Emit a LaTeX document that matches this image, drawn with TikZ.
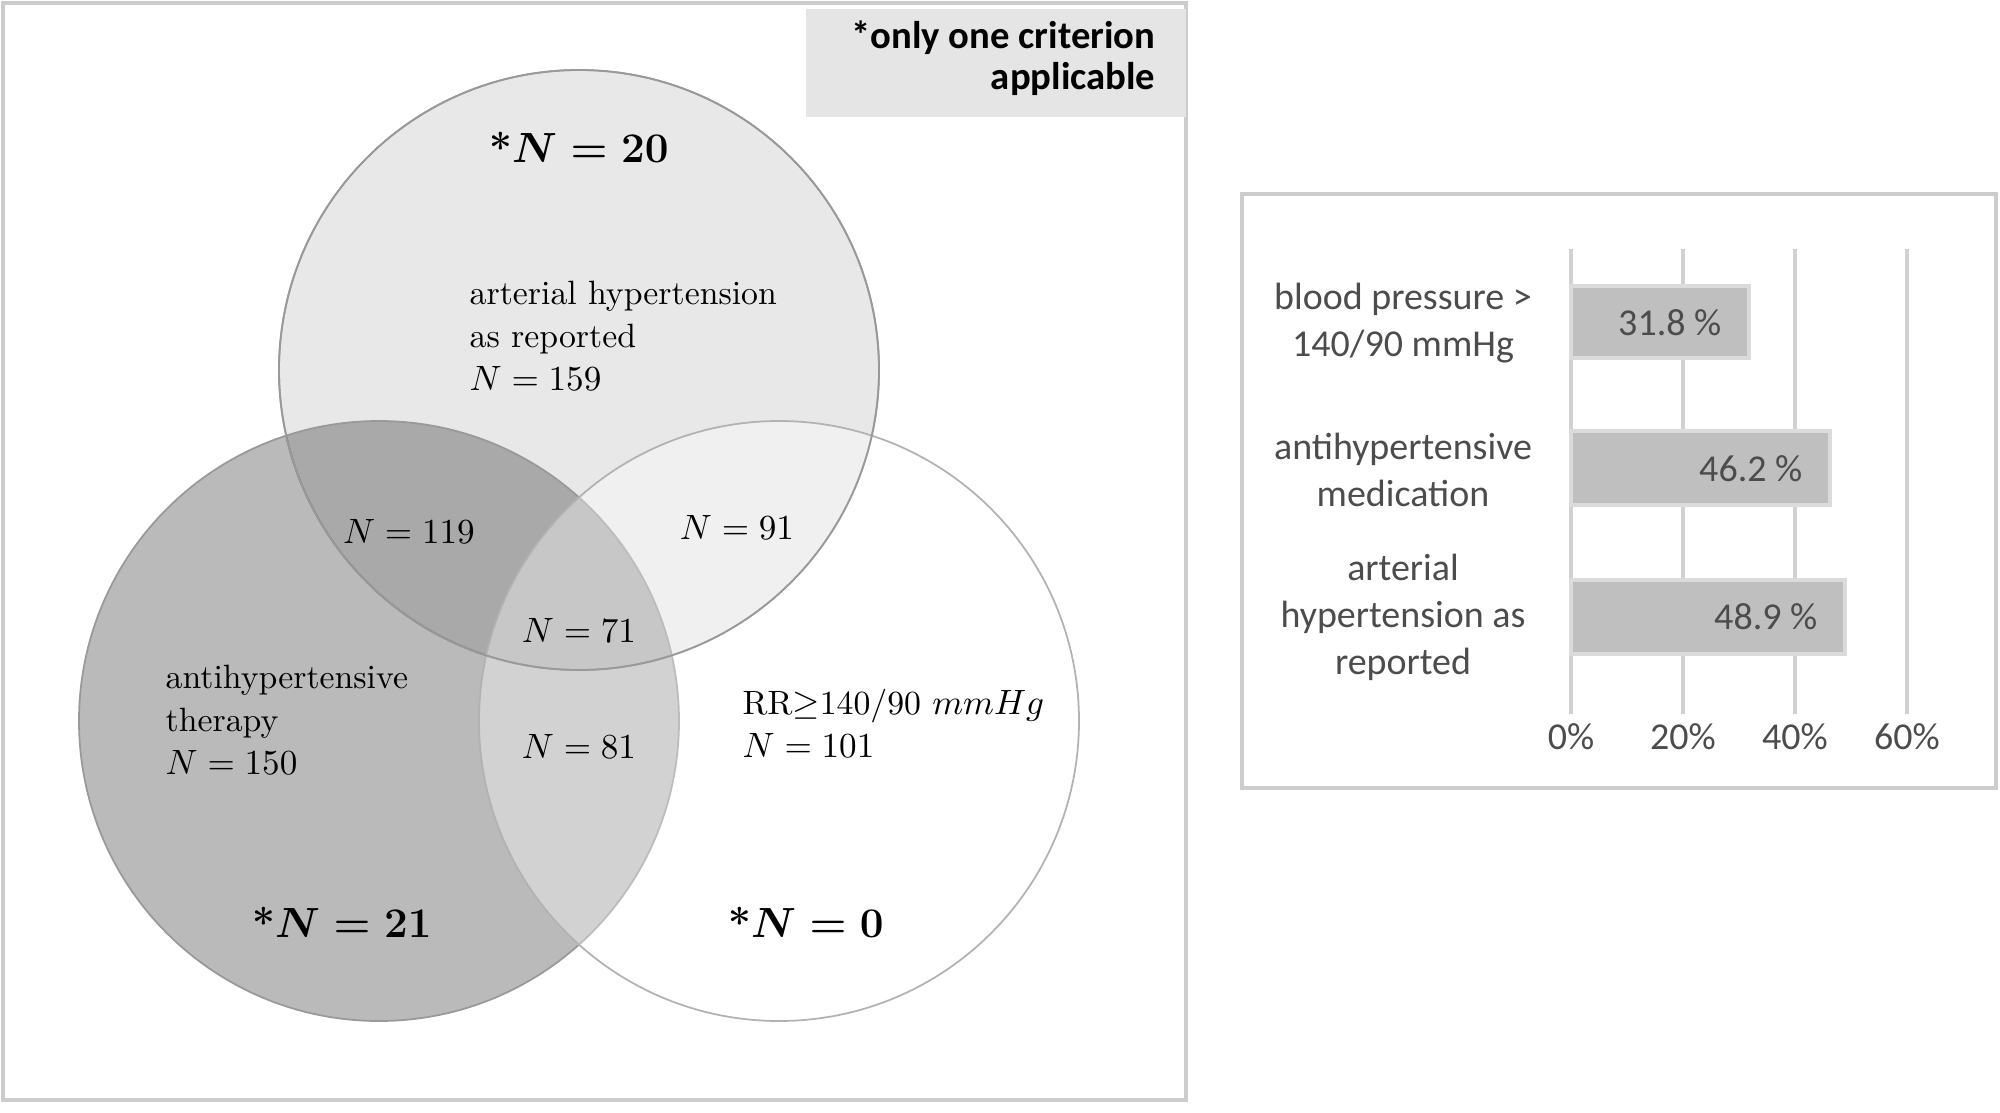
\documentclass[tikz,border=0pt]{standalone}
\usepackage{fontspec}
\newfontfamily\carfont{Carlito}
\begin{document}
\begin{tikzpicture}[x=0.01cm,y=-0.01cm,
  vtxt/.style={font=\fontsize{9.6}{12.3}\selectfont,align=left,inner sep=0},
  btxt/.style={font=\fontsize{11.5}{12}\selectfont\bfseries\boldmath,inner sep=0},
  ctxt/.style={font=\carfont\fontsize{10.8}{13.4}\selectfont,text=gray!60!black,align=center,inner sep=0},
  bar/.style={fill=black!25,draw=black!14,line width=1.2pt},
  grid/.style={draw=black!18,line width=0.9pt}]
\useasboundingbox (0,0) rectangle (2000,1112);
\draw[black!20,line width=1pt] (3,3) rectangle (1186,1100);
\node[fill=black!10,minimum width=3.8cm,minimum height=1.07cm,inner sep=0] (lab) at (996,63) {};
\node[font=\carfont\bfseries\fontsize{11}{11.8}\selectfont,align=right,anchor=east,inner sep=0] (labt) at (1156,58) {*only one criterion\\applicable};
% circles
\fill[black!9] (579,370) circle (300);
\draw[black!40,line width=0.5pt] (579,370) circle (300);
\fill[black,opacity=0.27] (379,721) circle (300);
\draw[black!40,line width=0.5pt] (379,721) circle (300);
\fill[white,opacity=0.35] (779,721) circle (300);
\draw[black!30,line width=0.5pt] (779,721) circle (300);
\draw[black!40,line width=0.5pt] (579,370) circle (300);
% texts
\node[btxt] (t20) at (579,147) {*$N=20$};
\node[vtxt,anchor=north west] (tarh) at (469,280) {arterial hypertension\\as reported\\$N=159$};
\node[vtxt] (t119) at (409,531) {$N=119$};
\node[vtxt] (t91) at (737,527) {$N=91$};
\node[vtxt] (t71) at (579,630) {$N=71$};
\node[vtxt] (t81) at (579,746) {$N=81$};
\node[vtxt,anchor=north west] (tat) at (165,664) {antihypertensive\\therapy\\$N=150$};
\node[vtxt,anchor=north west] (trr) at (742,688) {RR$\geq$140/90 $mmHg$\\$N=101$};
\node[btxt] (t21) at (342,922) {*$N=21$};
\node[btxt] (t0) at (806,922) {*$N=0$};
% chart
\draw[black!20,line width=1pt] (1242,194) rectangle (1996,788);
\foreach \i/\p in {0/0\%,1/20\%,2/40\%,3/60\%}{
  \draw[grid] (1571+112*\i,249) -- (1571+112*\i,714);
  \node[ctxt] (ax\i) at (1571+112*\i,737) {\p};
}
\draw[bar] (1571,286) rectangle (1749,358);
\draw[bar] (1571,431) rectangle (1830,505);
\draw[bar] (1571,580) rectangle (1845,654);
\node[ctxt,anchor=east] (b1) at (1722,323) {31.8 \%};
\node[ctxt,anchor=east] (b2) at (1803,469) {46.2 \%};
\node[ctxt,anchor=east] (b3) at (1818,617) {48.9 \%};
\node[ctxt] (c1) at (1403,323) {blood pressure >\\140/90 mmHg};
\node[ctxt] (c2) at (1403,470) {antihypertensive\\medication};
\node[ctxt] (c3) at (1403,617) {arterial\\hypertension as\\reported};
\end{tikzpicture}
\end{document}
